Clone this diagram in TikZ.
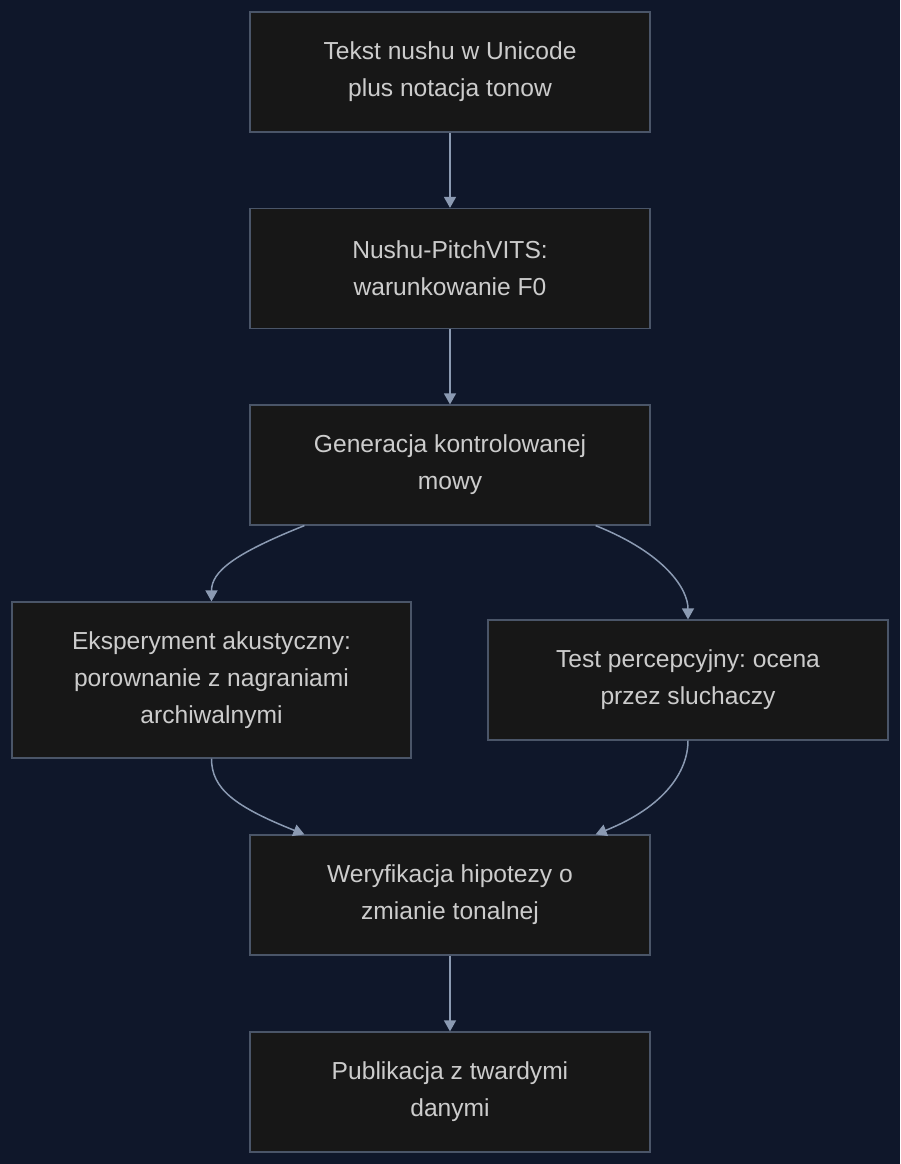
\documentclass[tikz,border=0pt]{standalone}
\usepackage{fontspec}
\setmainfont{Liberation Sans}
\usetikzlibrary{arrows.meta,positioning}
\frenchspacing
\definecolor{bgcol}{HTML}{0F172A}
\definecolor{boxfill}{HTML}{171717}
\definecolor{boxline}{HTML}{4A5568}
\definecolor{linkcol}{HTML}{8B9AB2}
\definecolor{txtcol}{HTML}{CCCCCC}
\tikzset{
  box/.style  = {draw=boxline, line width=1.2pt, fill=boxfill, text=txtcol,
                 minimum width=400pt, minimum height=120pt, align=center,
                 inner sep=0pt, font=\fontsize{24.6}{37}\selectfont},
  link/.style = {draw=linkcol, line width=1.5pt,
                 -{Triangle[length=11pt,width=12pt]}},
}
\begin{document}
\begin{tikzpicture}[x=1pt,y=-1pt]
  \fill[bgcol] (0,0) rectangle (900,1164);
  \useasboundingbox (0,0) rectangle (900,1164);
  % main column
  \node[box] (tekst) at (450,72) {Tekst nushu w Unicode\\plus notacja tonow};
  \node[box] (vits) at (450,268.5) {Nushu-PitchVITS:\\warunkowanie F0};
  \node[box] (gen) at (450,465) {Generacja kontrolowanej\\mowy};
  % two experiments
  \node[box, minimum width=399pt, minimum height=156pt] (akust) at (211.5,680)
    {Eksperyment akustyczny:\\porownanie z nagraniami\\archiwalnymi};
  \node[box] (percep) at (688,680) {Test percepcyjny: ocena\\przez sluchaczy};
  \node[box] (weryf) at (450,895) {Weryfikacja hipotezy o\\zmianie tonalnej};
  \node[box] (publ) at (450,1092) {Publikacja z twardymi\\danymi};
  % links
  \draw[link] (tekst) -- (vits);
  \draw[link] (vits) -- (gen);
  \draw[link] ([xshift=55pt]gen.south west) .. controls +(-70,28) and +(0,-30) .. (akust.north);
  \draw[link] ([xshift=-55pt]gen.south east) .. controls +(70,28) and +(0,-30) .. (percep.north);
  \draw[link] (akust.south) .. controls +(0,30) and +(-70,-28) .. ([xshift=55pt]weryf.north west);
  \draw[link] (percep.south) .. controls +(0,30) and +(70,-28) .. ([xshift=-55pt]weryf.north east);
  \draw[link] (weryf) -- (publ);
\end{tikzpicture}
\end{document}
